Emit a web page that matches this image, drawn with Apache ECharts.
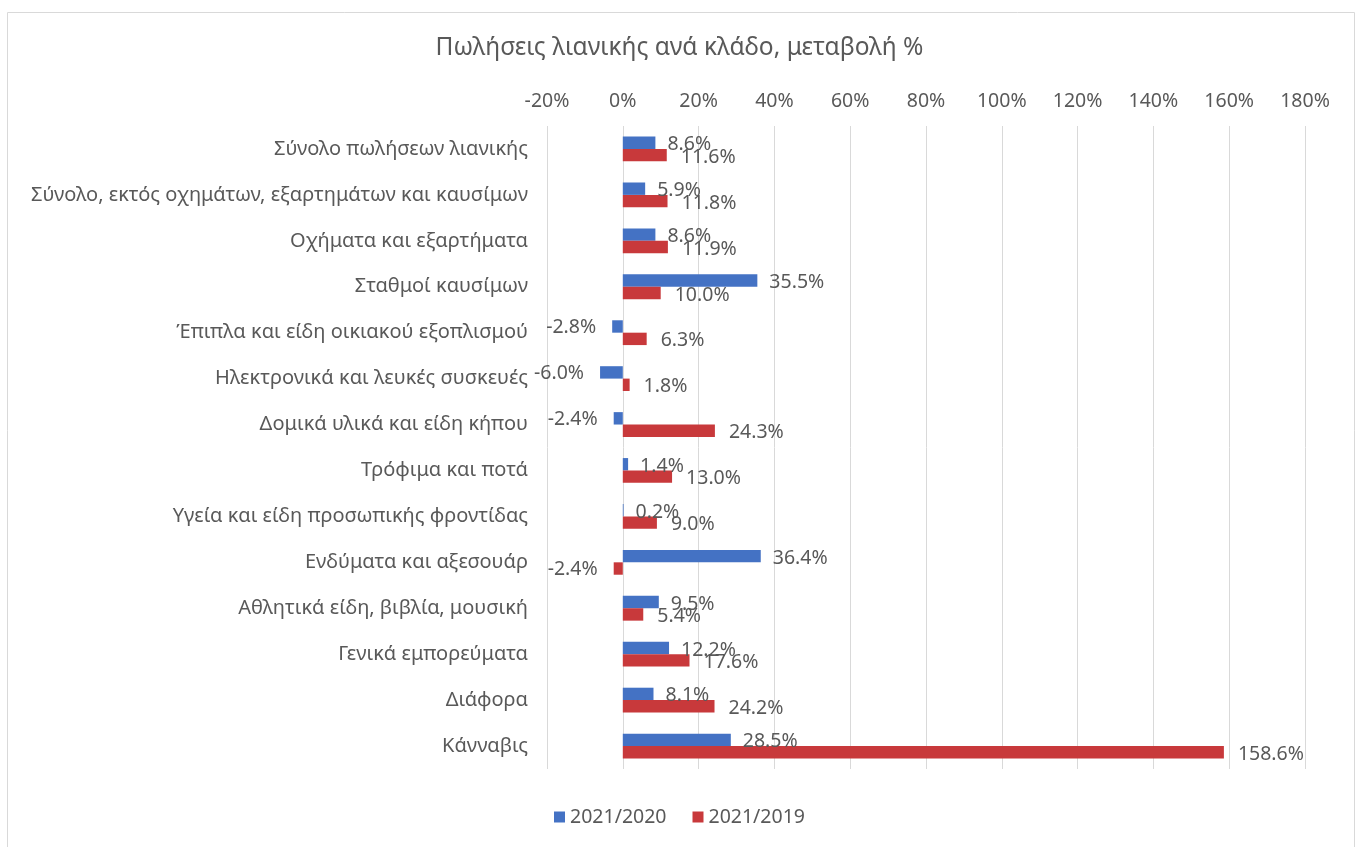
<!DOCTYPE html>
<html>
<head>
<meta charset="utf-8">
<script src="https://cdn.jsdelivr.net/npm/echarts@6/dist/echarts.min.js"></script>
<style>html,body{margin:0;padding:0;background:#fff;}#c{width:1359px;height:847px;}</style>
</head>
<body>
<div id="c"></div>
<script>
const categories = [
  "Σύνολο πωλήσεων λιανικής",
  "Σύνολο, εκτός οχημάτων, εξαρτημάτων και καυσίμων",
  "Οχήματα και εξαρτήματα",
  "Σταθμοί καυσίμων",
  "Έπιπλα και είδη οικιακού εξοπλισμού",
  "Ηλεκτρονικά και λευκές συσκευές",
  "Δομικά υλικά και είδη κήπου",
  "Τρόφιμα και ποτά",
  "Υγεία και είδη προσωπικής φροντίδας",
  "Ενδύματα και αξεσουάρ",
  "Αθλητικά είδη, βιβλία, μουσική",
  "Γενικά εμπορεύματα",
  "Διάφορα",
  "Κάνναβις"
];
const series2020 = [8.6, 5.9, 8.6, 35.5, -2.8, -6.0, -2.4, 1.4, 0.2, 36.4, 9.5, 12.2, 8.1, 28.5];
const series2019 = [11.6, 11.8, 11.9, 10.0, 6.3, 1.8, 24.3, 13.0, 9.0, -2.4, 5.4, 17.6, 24.2, 158.6];
const seriesNames = ["2021/2020", "2021/2019"];
const titleText = "Πωλήσεις λιανικής ανά κλάδο, μεταβολή %";

const FONT = "Noto Sans";
const TXT = "#595959";
function toData(arr) {
  return arr.map(v => ({
    value: v,
    label: v < 0 ? { position: 'left', distance: 16, offset: [0, 1] } : { position: 'right', offset: [0, 2] }
  }));
}
const chart = echarts.init(document.getElementById('c'));
chart.setOption({
  animation: false,
  textStyle: { fontFamily: FONT },
  graphic: [{
    type: 'rect', left: 5, top: 10,
    shape: { width: 1347, height: 850 },
    style: { fill: 'none', stroke: '#d9d9d9', lineWidth: 1 }, silent: true
  }],
  title: {
    text: titleText, left: 'center', top: 31,
    textStyle: { fontFamily: FONT, fontSize: 24.5, fontWeight: 'normal', color: TXT }
  },
  legend: {
    bottom: 15, left: 'center', itemWidth: 11, itemHeight: 11, itemGap: 26,
    icon: 'rect',
    textStyle: { fontFamily: FONT, fontSize: 19.5, color: TXT },
    data: seriesNames
  },
  grid: { left: 547, right: 54, top: 126, bottom: 78, containLabel: false },
  xAxis: {
    type: 'value', position: 'top', min: -20, max: 180, interval: 20,
    axisLine: { show: false }, axisTick: { show: false },
    axisLabel: { formatter: '{value}%', fontFamily: FONT, fontSize: 19.5, color: TXT, margin: 15 },
    splitLine: { lineStyle: { color: '#d9d9d9' } }
  },
  yAxis: {
    type: 'category', data: categories, inverse: true,
    axisLine: { show: false }, axisTick: { show: false },
    axisLabel: { fontFamily: FONT, fontSize: 20, color: TXT, margin: 19, offset: 0 }
  },
  series: [
    {
      name: seriesNames[0], type: 'bar', data: toData(series2020),
      itemStyle: { color: '#4472C4' }, barGap: '0%', barCategoryGap: '46%',
      label: { show: true, formatter: p => p.value.toFixed(1) + '%', fontFamily: FONT, fontSize: 19.5, color: TXT, distance: 12 }
    },
    {
      name: seriesNames[1], type: 'bar', data: toData(series2019),
      itemStyle: { color: '#C8393B' }, barGap: '0%', barCategoryGap: '46%',
      label: { show: true, formatter: p => p.value.toFixed(1) + '%', fontFamily: FONT, fontSize: 19.5, color: TXT, distance: 14 }
    }
  ]
});
</script>
</body>
</html>
